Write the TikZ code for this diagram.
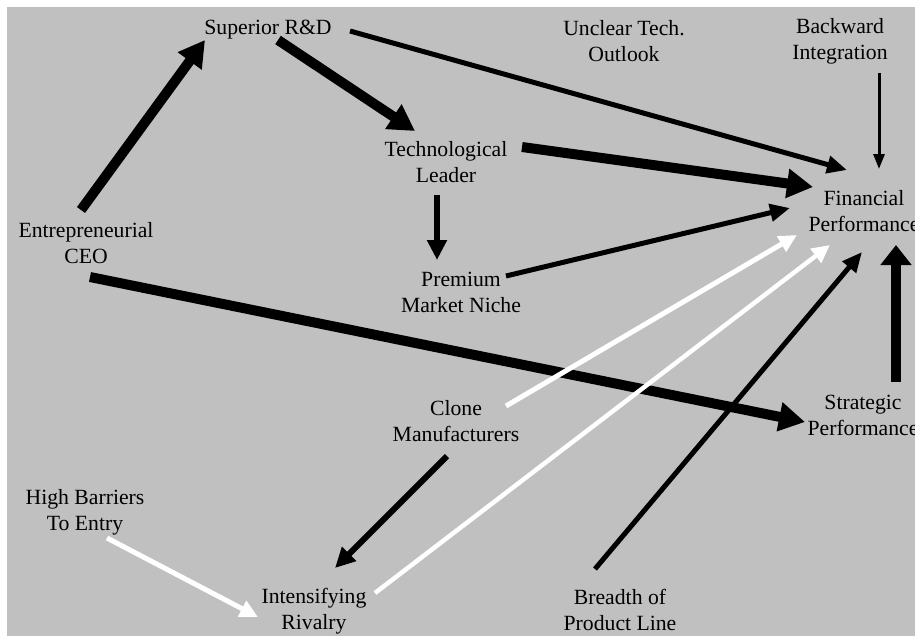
\documentclass[tikz,border=0pt]{standalone}
\usepackage{fontspec}
\setmainfont{Liberation Serif}
\usetikzlibrary{arrows.meta,calc}
\definecolor{bggray}{HTML}{C0C0C0}
\begin{document}
\begin{tikzpicture}[x=1pt,y=-1pt,
  lbl/.style={align=center,inner sep=0pt,font=\fontsize{21.7}{26}\selectfont},
  thickarr/.style={line width=10pt,-{Triangle[length=26pt,width=28pt]}},
  medarr/.style={line width=6pt,-{Triangle[length=20pt,width=19pt]}},
  thinarr/.style={line width=5pt,-{Triangle[length=20pt,width=17pt]}},
  hairarr/.style={line width=3pt,-{Triangle[length=15pt,width=11pt]}},
  whitearr/.style={white,line width=5pt,-{Triangle[length=18pt,width=17pt]}}]
\useasboundingbox (0,0) rectangle (915,635);
\fill[bggray] (7,7) rectangle (930,650);
\node[lbl] (sup) at (268,30) {Superior R\&D};
\node[lbl] (unc) at (624,41) {Unclear Tech.\\Outlook};
\node[lbl] (bwd) at (840,41) {Backward\\Integration};
\node[lbl] (tech) at (446,162) {Technological\\Leader};
\node[lbl] (prem) at (461,292) {Premium\\Market Niche};
\node[lbl] (entr) at (86,243) {Entrepreneurial\\CEO};
\node[lbl] (fin) at (864,211) {Financial\\Performance};
\node[lbl] (str) at (863,415) {Strategic\\Performance};
\node[lbl] (clone) at (456,421) {Clone\\Manufacturers};
\node[lbl] (hb) at (85,512) {High Barriers\\To Entry};
\node[lbl] (int) at (314,611) {Intensifying\\Rivalry};
\node[lbl] (bre) at (620,610) {Breadth of\\Product Line};
% black arrows
\draw[thickarr] ($(entr)+(-5,-33)$) -- ($(sup)+(-63,10)$);
\draw[thickarr] ($(sup)+(10,10)$) -- ($(tech)+(-31,-31)$);
\draw[thinarr] ($(sup)+(82,1)$) -- ($(fin)+(-17,-41)$);
\draw[thickarr] ($(tech)+(76,-15)$) -- ($(fin)+(-51,-24)$);
\draw[medarr] ($(tech)+(-9,33)$) -- ($(prem)+(-24,-32)$);
\draw[thinarr] ($(prem)+(45,-16)$) -- ($(fin)+(-74,-3)$);
\draw[hairarr] ($(bwd)+(39,32)$) -- ($(fin)+(15,-42)$);
\draw[thickarr] ($(entr)+(4,34)$) -- ($(str)+(-58,7)$);
\draw[line width=10pt,-{Triangle[length=20pt,width=30pt]}] ($(str)+(33,-33)$) -- ($(fin)+(32,34)$);
\draw[whitearr] ($(clone)+(50,-15)$) -- ($(fin)+(-67,24)$);
\draw[whitearr,line width=4.5pt] ($(int)+(61,-18)$) -- ($(fin)+(-34,34)$);
\draw[thinarr] ($(bre)+(-25,-41)$) -- ($(fin)+(-2,41)$);
\draw[medarr] ($(clone)+(-9,35)$) -- ($(int)+(21,-43)$);
\draw[whitearr] ($(hb)+(22,26)$) -- ($(int)+(-56,6)$);
\end{tikzpicture}
\end{document}
